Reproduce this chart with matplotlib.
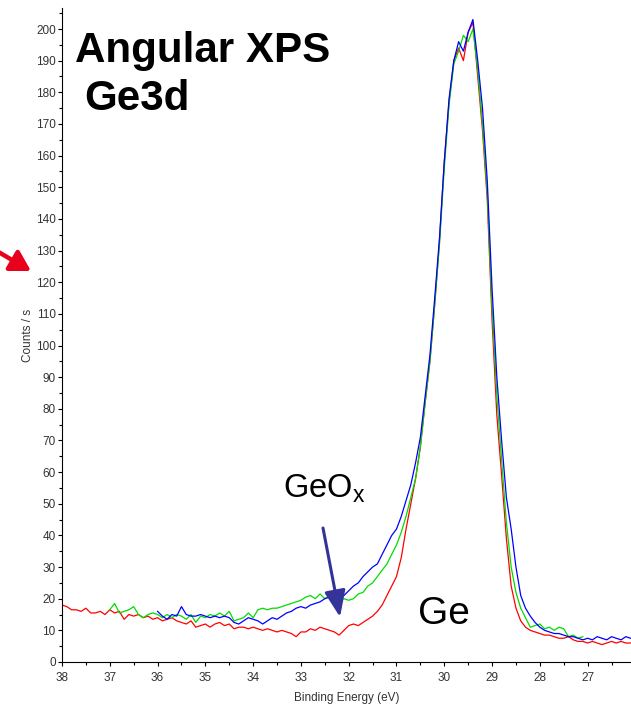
import numpy as np
import matplotlib
matplotlib.use("Agg")
import matplotlib.pyplot as plt
from matplotlib.ticker import MultipleLocator

plt.rcParams['font.family'] = ['Liberation Sans', 'DejaVu Sans']

# energy grids (eV), 0.1 eV steps, high -> low binding energy
red_start, green_start, blue_start = 38.0, 37.0, 36.0
step = 0.1

red_counts = [
    18, 17.5, 16.5, 16.5, 16, 17, 15.5, 15.5, 16, 15,
    16.5, 15.5, 16, 13.5, 15, 14.5, 15, 14, 14.5, 13.5,
    14, 13, 13.5, 14, 13, 12.5, 12, 13, 11, 11.5,
    12, 11, 12, 12.5, 11.5, 12, 10.5, 11, 11, 10.5,
    11, 10.5, 10, 10.5, 10, 9.5, 10, 9.5, 9, 8,
    9.5, 9.5, 10.5, 10, 11, 10.5, 10, 9.5, 8.5, 10,
    11.5, 12, 11.5, 12.5, 13.5, 14.5, 16, 18, 21, 24,
    27, 33, 42, 50, 58, 68, 82, 95, 113, 133,
    158, 177, 190, 194, 190, 199, 202, 185, 168, 146,
    108, 78, 59, 39, 24, 17, 13, 11, 10, 9.5,
    9, 8.5, 8.5, 8, 7.5, 7.5, 8, 7, 6.5, 6.5,
    6, 6.5, 6, 5.5, 6, 6.5, 6, 6.5, 6, 6,
]

green_counts = [
    16.5, 18.5, 15.5, 16, 16.5, 17.5, 15, 14, 15, 15.5,
    15, 14, 15, 14, 15, 14.5, 13.5, 15, 12.5, 14.5,
    14, 15, 14.5, 15.5, 14.5, 16, 13, 13.5, 14, 15.5,
    14, 16.5, 17, 16.5, 17, 17, 17.5, 18, 18.5, 19,
    19.5, 20.5, 21, 20, 21.5, 20, 21, 19.5, 19.5, 20,
    19.5, 20, 21.5, 22, 24, 25, 27, 29, 31, 34,
    37, 41, 46, 52, 58, 68, 82, 95, 113, 132,
    156, 176, 189, 193, 198, 196, 200, 187, 170, 148,
    112, 84, 64, 44, 30, 22, 17, 14, 11, 11.5,
    12, 10.5, 11, 10, 11, 10.5, 8, 8.5, 7.5, 8,
]

blue_counts = [
    16, 14.5, 13.5, 15, 14.5, 17.5, 15, 14.5, 14.5, 15,
    14.5, 14, 14.5, 14, 14.5, 14, 12.5, 12, 13, 14,
    13.5, 13, 12, 13, 14, 13.5, 14.5, 15.5, 16, 17,
    17.5, 17, 18, 18.5, 19, 20, 20.5, 21, 21.5, 21,
    22.5, 24, 25, 27, 28.5, 30, 31, 34, 37, 40,
    42, 46, 51, 56, 63, 71, 84, 97, 115, 134,
    158, 178, 190, 196, 193, 199, 203, 190, 175, 152,
    118, 90, 70, 52, 42, 30, 21, 17, 14.5, 12.5,
    11, 10, 9.5, 9, 9, 8.5, 8, 8, 7.5, 7,
    7.5, 7, 8, 7.5, 7, 8, 7.5, 7, 8, 7.5,
]

def grid(start, n):
    return start - step * np.arange(n)

W, H = 631, 706
fig = plt.figure(figsize=(W / 100, H / 100), dpi=100)
ax = fig.add_axes([62 / W, 44 / H, (W - 62) / W, 654 / H])

ax.plot(grid(red_start, len(red_counts)), red_counts, color='#ff0000', lw=0.9)
ax.plot(grid(green_start, len(green_counts)), green_counts, color='#00dd00', lw=0.9)
ax.plot(grid(blue_start, len(blue_counts)), blue_counts, color='#0000ff', lw=0.9)

ax.set_xlim(38, 38 - 568 / 47.7)
ax.set_ylim(0, 654 / 3.165)
ax.xaxis.set_major_locator(MultipleLocator(1))
ax.xaxis.set_minor_locator(MultipleLocator(0.5))
ax.yaxis.set_major_locator(MultipleLocator(10))
ax.yaxis.set_minor_locator(MultipleLocator(5))
ax.tick_params(which='major', length=3, width=0.8, labelsize=8.5, labelcolor='#333333', pad=1.5)
ax.tick_params(axis='x', which='major', pad=4)
ax.tick_params(which='minor', length=2, width=0.8)
for s in ['top', 'right']:
    ax.spines[s].set_visible(False)

ax.set_xlabel('Binding Energy (eV)', fontsize=8.5, color='#333333', labelpad=6)
ax.set_ylabel('Counts / s', fontsize=8.5, color='#333333', labelpad=1)

def fx(px):
    return px / W

def fy(py):
    return 1 - py / H

fig.text(fx(75), fy(62), 'Angular XPS', fontsize=30.3, fontweight='bold', va='baseline')
fig.text(fx(84), fy(110), 'Ge3d', fontsize=30.3, fontweight='bold', va='baseline')
fig.text(fx(283), fy(497), r'GeO$_\mathregular{x}$', fontsize=23.5, va='baseline')
fig.text(fx(418), fy(624), 'Ge', fontsize=28, va='baseline')

# arrows
fig_px = 'figure pixels'
ax.annotate('', xy=(340, H - 617), xycoords=fig_px, xytext=(323, H - 528), textcoords=fig_px,
            arrowprops=dict(arrowstyle='-|>,head_length=0.8,head_width=0.32', color='#333399',
                            lw=2.2, mutation_scale=20, shrinkA=0, shrinkB=0))
ax.annotate('', xy=(31, H - 271), xycoords=fig_px, xytext=(-5, H - 250), textcoords=fig_px,
            arrowprops=dict(arrowstyle='-|>,head_length=0.6,head_width=0.35', color='#e8001c',
                            lw=3.2, mutation_scale=20, shrinkA=0, shrinkB=0),
            annotation_clip=False)

fig.savefig('out.png', dpi=100)
